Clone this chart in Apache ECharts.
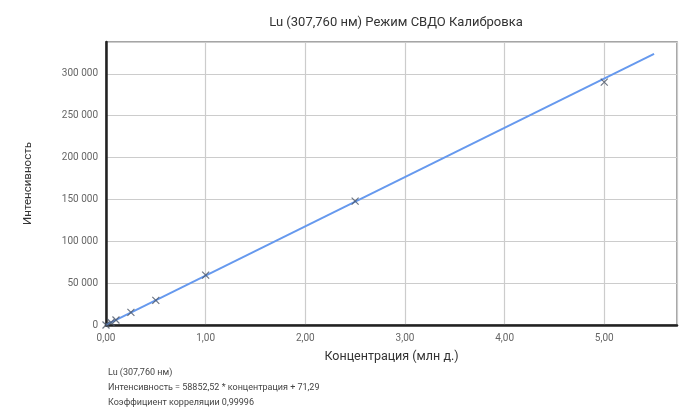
<!DOCTYPE html>
<html><head><meta charset="utf-8">
<script src="https://cdn.jsdelivr.net/npm/echarts@6/dist/echarts.min.js"></script>
<style>html,body{margin:0;padding:0;background:#fff}#c{width:683px;height:413px}</style>
</head><body><div id="c"></div>
<script>
const title = 'Lu (307,760 нм) Режим СВДО Калибровка';
const xName = 'Концентрация (млн д.)';
const yName = 'Интенсивность';
const standardConc = [0, 0.05, 0.1, 0.25, 0.5, 1.0, 2.5, 5.0];
const standardInt = [0, 3000, 6000, 15000, 29500, 59500, 148000, 290000];
const fitLineX = [0, 5.5];
const fitLineY = [71.29, 323760];
const infoLines = ['Lu (307,760 нм)', 'Интенсивность = 58852,52 * концентрация + 71,29', 'Коэффициент корреляции 0,99996'];

const chart = echarts.init(document.getElementById('c'));
const fmtY = v => v === 0 ? '0' : String(v).replace(/\B(?=(\d{3})+(?!\d))/g, ' ');
chart.setOption({
  animation: false,
  title: { text: title, left: 391, textAlign: 'center', top: 11,
    textStyle: { fontFamily: 'Roboto', fontSize: 13, fontWeight: 'normal', color: '#333' } },
  graphic: infoLines.map((t, i) => ({ type: 'text', left: 108, top: 368 + i * 15,
    style: { text: t, font: '9px Roboto', fill: '#444' } })),
  grid: { left: 106, right: 6, top: 42, bottom: 88, show: true, borderColor: '#888', borderWidth: 1.5 },
  xAxis: { type: 'value', min: 0, max: 5.73, interval: 1,
    name: xName, nameLocation: 'middle', nameGap: 25,
    nameTextStyle: { fontFamily: 'Roboto', fontSize: 12.5, color: '#333' },
    axisLine: { show: true, lineStyle: { color: '#222', width: 2.5 } },
    axisTick: { show: false },
    axisLabel: { fontFamily: 'Roboto', fontSize: 10, color: '#666', margin: 8, showMaxLabel: false,
      formatter: v => v.toFixed(2).replace('.', ',') },
    splitLine: { show: true, lineStyle: { color: '#ccc', width: 1.2 } } },
  yAxis: { type: 'value', min: 0, max: 338000, interval: 50000,
    name: yName, nameLocation: 'middle', nameGap: 72, nameRotate: 90,
    nameTextStyle: { fontFamily: 'Roboto', fontSize: 11.5, color: '#333' },
    axisLine: { show: true, lineStyle: { color: '#222', width: 2.5 } },
    axisTick: { show: false },
    axisLabel: { fontFamily: 'Roboto', fontSize: 10, color: '#666', margin: 8, showMaxLabel: false, formatter: fmtY },
    splitLine: { show: true, lineStyle: { color: '#ccc', width: 1.2 } } },
  series: [
    { type: 'line', data: fitLineX.map((x, i) => [x, fitLineY[i]]), showSymbol: false,
      lineStyle: { color: '#6699ee', width: 2 }, z: 2 },
    { type: 'scatter', data: standardConc.map((x, i) => [x, standardInt[i]]),
      symbol: 'path://M0,0L10,10M10,0L0,10', symbolSize: 7,
      itemStyle: { color: 'rgba(0,0,0,0)', borderColor: '#4a5566', borderWidth: 1.2 }, z: 3 }
  ]
});
</script></body></html>
